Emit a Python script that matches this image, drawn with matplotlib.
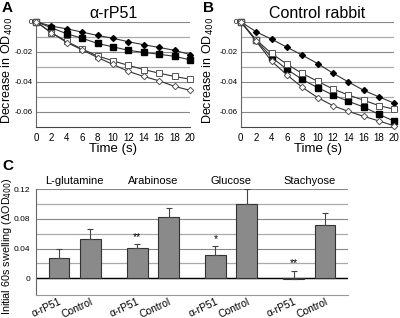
import matplotlib
matplotlib.use("Agg")
import matplotlib.pyplot as plt
import numpy as np

plt.rcParams['font.family'] = ['Liberation Sans', 'DejaVu Sans']

time = [0, 2, 4, 6, 8, 10, 12, 14, 16, 18, 20]

# Panel A (alpha-rP51)
a_filled_diamond = [0, -0.0029, -0.0047, -0.0069, -0.0091, -0.0110, -0.0133, -0.0153, -0.0171, -0.0190, -0.0218]
a_filled_square = [0, -0.0040, -0.0080, -0.0110, -0.0144, -0.0167, -0.0190, -0.0204, -0.0216, -0.0230, -0.0253]
a_open_square = [0, -0.0073, -0.0131, -0.0182, -0.0227, -0.0260, -0.0290, -0.0318, -0.0342, -0.0364, -0.0382]
a_open_diamond = [0, -0.0073, -0.0138, -0.0187, -0.0238, -0.0284, -0.0330, -0.0364, -0.0393, -0.0430, -0.0456]

# Panel B (control rabbit)
b_filled_diamond = [0, -0.0067, -0.0116, -0.0169, -0.0222, -0.0278, -0.0342, -0.0400, -0.0456, -0.0500, -0.0542]
b_filled_square = [0, -0.0124, -0.0236, -0.0316, -0.0384, -0.0438, -0.0487, -0.0529, -0.0567, -0.0616, -0.0662]
b_open_square = [0, -0.0120, -0.0211, -0.0282, -0.0344, -0.0396, -0.0447, -0.0487, -0.0522, -0.0558, -0.0582]
b_open_diamond = [0, -0.0129, -0.0262, -0.0353, -0.0436, -0.0504, -0.0558, -0.0596, -0.0629, -0.0660, -0.0693]

# Panel C
groups = ['L-glutamine', 'Arabinose', 'Glucose', 'Stachyose']
bar_labels = ['α-rP51', 'Control'] * 4
bar_values = [0.027, 0.0526, 0.0404, 0.0831, 0.0319, 0.1002, -0.0013, 0.0715]
bar_errors = [0.012, 0.0134, 0.0054, 0.0113, 0.0112, 0.0198, 0.0107, 0.0161]
bar_stars = ['', '', '**', '', '*', '', '**', '']

fig = plt.figure(figsize=(4.0, 3.18), dpi=100)

def line_panel(ax, series, title):
    styles = [
        dict(marker='D', ms=3.0, mfc='black', mec='black'),
        dict(marker='s', ms=4.0, mfc='black', mec='black'),
        dict(marker='s', ms=3.8, mfc='white', mec='#555555', mew=0.7),
        dict(marker='D', ms=3.3, mfc='white', mec='#555555', mew=0.7),
    ]
    for ys, st in zip(series, styles):
        ax.plot(time, ys, color='#333333', lw=0.8, zorder=3, clip_on=False, **st)
    ax.set_xlim(0, 20)
    ax.set_ylim(-0.07, 0)
    ax.set_yticks([0, -0.02, -0.04, -0.06])
    ax.set_yticklabels(['0', '-0.02', '-0.04', '-0.06'])
    ax.set_yticks([-0.01, -0.03, -0.05], minor=True)
    ax.set_xticks(time)
    ax.grid(True, axis='y', which='major', color='#888888', lw=0.8)
    ax.grid(True, axis='y', which='minor', color='#aaaaaa', lw=0.9)
    ax.tick_params(axis='y', length=0, labelsize=5.8, pad=2)
    ax.tick_params(axis='x', length=0, labelsize=7, pad=4)
    ax.tick_params(which='minor', length=0)
    for s in ['top', 'right']:
        ax.spines[s].set_visible(False)
    ax.spines['left'].set_color('#666666')
    ax.spines['bottom'].set_color('#444444')
    ax.set_axisbelow(True)
    ax.set_xlabel('Time (s)', fontsize=9.5, labelpad=0)
    ax.set_title(title, fontsize=11.5, pad=3)

axA = fig.add_axes([0.09, 0.6006, 0.385, 0.331])
line_panel(axA, [a_filled_diamond, a_filled_square, a_open_square, a_open_diamond], 'α-rP51')
axB = fig.add_axes([0.602, 0.6006, 0.384, 0.331])
line_panel(axB, [b_filled_diamond, b_filled_square, b_open_square, b_open_diamond], 'Control rabbit')

fig.text(0.0, 0.778, 'Decrease in OD$_{400}$', rotation=90, ha='left', va='center', fontsize=9)
fig.text(0.502, 0.778, 'Decrease in OD$_{400}$', rotation=90, ha='left', va='center', fontsize=9)

axC = fig.add_axes([0.09, 0.0723, 0.78, 0.3325])
pos = []
for g in range(4):
    pos += [g * 2.5, g * 2.5 + 1]
pos = np.array(pos)
axC.bar(pos, bar_values, width=0.66, color='#8a8a8a', edgecolor='#333333', lw=0.8, zorder=3)
axC.errorbar(pos, bar_values, yerr=[np.zeros(len(bar_errors)), bar_errors], fmt='none',
             ecolor='#444444', elinewidth=0.8, capsize=2.5, capthick=0.8, zorder=4)
for x, v, e, s in zip(pos, bar_values, bar_errors, bar_stars):
    if s:
        axC.text(x, max(v, 0) + e + 0.003, s, ha='center', va='bottom', fontsize=7.5)
axC.set_xlim(-0.73, 9.23)
axC.set_ylim(-0.0225, 0.12)
axC.set_yticks([0, 0.04, 0.08, 0.12])
axC.set_yticklabels(['0', '0.04', '0.08', '0.12'])
axC.set_yticks([0.02, 0.06, 0.10], minor=True)
axC.grid(True, axis='y', which='major', color='#888888', lw=0.8)
axC.grid(True, axis='y', which='minor', color='#aaaaaa', lw=0.9)
axC.axhline(0, color='black', lw=1.0, zorder=2)
axC.set_xticks(pos)
axC.set_xticklabels(bar_labels, rotation=25, ha='right', rotation_mode='anchor')
axC.tick_params(axis='y', length=0, labelsize=6, pad=4)
axC.tick_params(axis='x', length=0, labelsize=7.5, pad=1)
axC.tick_params(which='minor', length=0)
for s in ['top', 'right']:
    axC.spines[s].set_visible(False)
axC.spines['left'].set_color('#666666')
axC.spines['bottom'].set_color('#999999')
axC.set_axisbelow(True)
fig.text(0.0, 0.226, 'Initial 60s swelling (ΔOD$_{400}$)', rotation=90, ha='left', va='center', fontsize=7.8)
for g, name in enumerate(groups):
    axC.text(g * 2.5 + 0.5, 1.03, name, transform=axC.get_xaxis_transform(),
             ha='center', va='bottom', fontsize=8)

fig.text(0.005, 0.998, 'A', fontsize=11, fontweight='bold', va='top')
fig.text(0.507, 0.998, 'B', fontsize=11, fontweight='bold', va='top')
fig.text(0.005, 0.5, 'C', fontsize=11, fontweight='bold', va='top')

fig.savefig('out.png', dpi=100)
